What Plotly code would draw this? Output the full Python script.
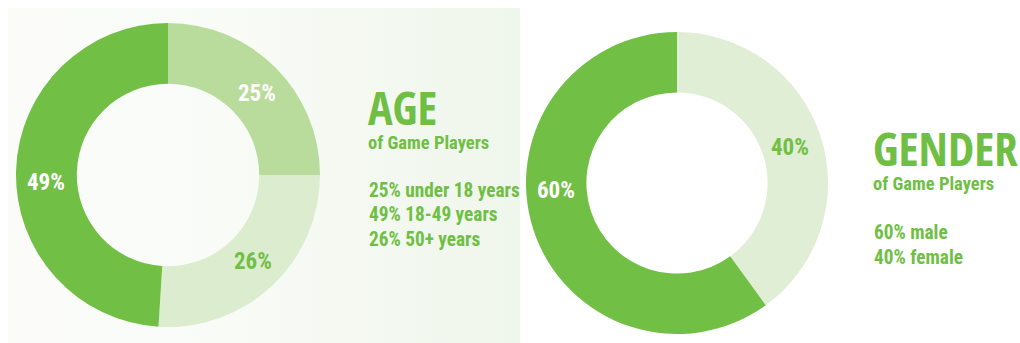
import plotly.graph_objects as go

# Survey breakdown of game players
age_labels = ["under 18 years", "50+ years", "18-49 years"]
age_values = [25, 26, 49]
age_colors = ["#b9dc9c", "#dbeccf", "#72bf46"]
age_text_colors = ["white", "#72bf46", "white"]
age_label_pos = [(257, 93), (253, 261), (46, 182)]

gender_labels = ["female", "male"]
gender_values = [40, 60]
gender_colors = ["#dfeed4", "#72bf46"]
gender_text_colors = ["#72bf46", "white"]
gender_label_pos = [(790, 147), (556, 190)]

W, H = 1020, 343
GREEN = "#6fbf45"
HEAD_FONT = "Open Sans Condensed"
BODY_FONT = "Roboto Condensed, Open Sans Condensed, sans-serif"


def px_x(x):
    return x / W


def px_y(y):
    return 1 - y / H


def domain(cx, cy, r):
    return dict(x=[px_x(cx - r), px_x(cx + r)], y=[px_y(cy + r), px_y(cy - r)])


fig = go.Figure()

# soft panel behind the age block
fig.add_trace(go.Scatter(
    x=[8, 520, 520, 8, 8], y=[0, 0, 335, 335, 0],
    mode="lines", line=dict(width=0), fill="toself",
    fillgradient=dict(type="horizontal",
                      colorscale=[[0, "#fbfcfa"], [0.45, "#f8fbf6"], [1, "#eff6eb"]]),
    hoverinfo="skip", showlegend=False,
))

fig.add_trace(go.Pie(
    labels=age_labels, values=age_values, hole=0.6, sort=False,
    direction="clockwise", rotation=0,
    marker=dict(colors=age_colors, line=dict(width=0)),
    textinfo="none",
    domain=domain(168, 175, 152), showlegend=False, hoverinfo="label+value",
))

fig.add_trace(go.Pie(
    labels=gender_labels, values=gender_values, hole=0.6, sort=False,
    direction="clockwise", rotation=0,
    marker=dict(colors=gender_colors, line=dict(width=0)),
    textinfo="none",
    domain=domain(677, 183, 151), showlegend=False, hoverinfo="label+value",
))


def note(text, x, y, size, family, weight="normal", color=GREEN,
         anchor="left", yanchor="middle"):
    fig.add_annotation(
        text=text,
        x=px_x(x), y=px_y(y), xref="paper", yref="paper",
        xanchor=anchor, yanchor=yanchor, showarrow=False, align="left",
        font=dict(family=family, size=size, color=color, weight=weight),
    )


def heading(title, size, x, bottom):
    # big title with the subtitle tucked right under it, as one text block
    big = f"<span style='font-size:{size}px;font-family:{HEAD_FONT}'>{title}</span>"
    note(f"{big}<br>of Game Players", x, bottom, 18.5, BODY_FONT,
         weight="bold", yanchor="bottom")


# percentage labels on the rings
for v, c, (x, y) in zip(age_values, age_text_colors, age_label_pos):
    note(f"{v}%", x, y, 23, BODY_FONT, weight="bold", color=c, anchor="center")
for v, c, (x, y) in zip(gender_values, gender_text_colors, gender_label_pos):
    note(f"{v}%", x, y, 23, BODY_FONT, weight="bold", color=c, anchor="center")

heading("AGE", 46, 366, 156)
age_rows = [(25, "under 18 years"), (49, "18-49 years"), (26, "50+ years")]
for i, (v, lab) in enumerate(age_rows):
    note(f"{v}% {lab}", 367, 190 + i * 24.5, 19.3, BODY_FONT, weight="bold")

heading("GENDER", 47, 871, 197)
gender_rows = [(60, "male"), (40, "female")]
for i, (v, lab) in enumerate(gender_rows):
    note(f"{v}% {lab}", 872, 233 + i * 24.5, 19.3, BODY_FONT, weight="bold")

fig.update_layout(
    width=W, height=H, margin=dict(l=0, r=0, t=0, b=0),
    paper_bgcolor="white", plot_bgcolor="rgba(0,0,0,0)",
    xaxis=dict(range=[0, W], visible=False, domain=[0, 1], fixedrange=True),
    yaxis=dict(range=[0, H], visible=False, domain=[0, 1], fixedrange=True),
    showlegend=False,
)

fig.write_html("out.html")
